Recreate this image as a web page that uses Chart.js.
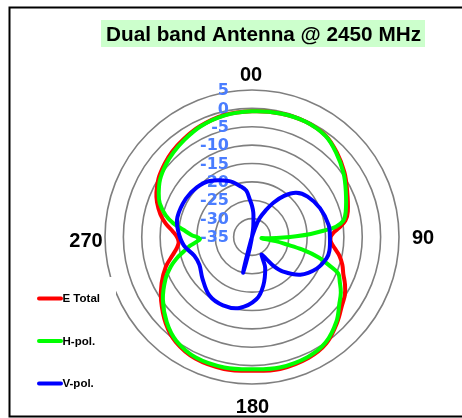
<!DOCTYPE html>
<html>
<head>
<meta charset="utf-8">
<script src="https://cdn.jsdelivr.net/npm/chart.js@4.4.1/dist/chart.umd.min.js"></script>
<style>
  html, body { margin: 0; padding: 0; background: #fff; }
</style>
</head>
<body>
<canvas id="chart" width="462" height="418"></canvas>
<script>
const title = 'Dual band Antenna @ 2450 MHz';
const seriesNames = ['E Total', 'H-pol.', 'V-pol.'];
const seriesColors = ['#ff0000', '#00ff00', '#0000ff'];
const directionLabels = ['00', '90', '180', '270'];
const tickValues = [5, 0, -5, -10, -15, -20, -25, -30, -35];

// angle (deg, clockwise from top) / level (dB) pairs
const eAngles = [0, 13, 25, 36, 45, 55, 64, 75, 80, 84, 87, 90, 94, 98, 102, 107, 112, 117, 122, 127, 135, 145, 155, 168, 180, 192, 205, 216, 225, 235, 243, 251, 257, 262, 266, 270, 274, 279, 284, 290, 295, 302, 310, 317, 325, 335, 347];
const eValues = [-0.8, -0.5, -0.4, -0.9, -2.4, -4.3, -6.2, -8.0, -9.2, -11.2, -12.8, -13.6, -13.4, -12.2, -10.7, -9.3, -8.2, -6.6, -5.2, -4.3, -2.2, 0.3, 1.3, 1.7, 1.4, 1.7, 1.5, 0.3, -1.8, -4.8, -7.4, -10.2, -12.8, -14.4, -15.0, -14.6, -13.4, -11.2, -9.3, -7.5, -6.3, -5.0, -4.0, -3.2, -2.5, -1.7, -1.0];

const hAngles = [0, 13, 25, 36, 45, 55, 64, 75, 80, 83, 85, 87, 89, 91, 94, 97, 100, 102, 104, 107, 110, 113, 117, 122, 127, 135, 145, 155, 168, 180, 192, 205, 216, 225, 235, 244, 250, 254, 258, 262, 265, 268, 272, 276, 280, 284, 290, 295, 302, 310, 317, 325, 335, 347];
const hValues = [-0.8, -0.5, -0.4, -1.0, -2.6, -4.6, -6.6, -8.6, -9.8, -12, -15.5, -19, -23, -26.5, -30, -32.4, -28.5, -25.5, -21, -16, -12.8, -9.5, -8.2, -6.5, -5.2, -2.5, 0, 1.0, 1.3, 1.0, 1.3, 1.2, 0, -2.2, -5.4, -8.8, -11.5, -13.6, -16, -18, -19.8, -20.8, -18.5, -16.2, -13.2, -10.8, -8.3, -7, -5.5, -4.4, -3.6, -2.8, -1.8, -1.1];

const vAngles = [0, 3, 5, 8, 11, 14, 17, 19, 22, 27, 32, 38, 45, 54, 67, 81, 90, 100, 106, 116, 128, 138, 143, 147, 151, 154, 157, 167, 176, 190, 203, 216, 230, 242, 252, 263, 275, 285, 300, 312, 323, 338, 347, 353, 357];
const vValues = [-26.5, -28.3, -30.5, -33, -38, -45, -36, -32.5, -29.5, -27, -24, -20.8, -18, -16.3, -14.9, -13.9, -13.8, -13.6, -13.9, -15.4, -18.3, -22.3, -25, -28, -29.6, -28.2, -25.8, -21.4, -18, -15.4, -14.8, -15.3, -17.4, -18.8, -18.5, -16.3, -14.8, -14.0, -14.2, -14.8, -15.9, -18.6, -20.8, -22.3, -25.0];

const degrees = Array.from({ length: 360 }, (_, i) => String(i));

function ring(angles, values) {
  const arr = new Array(360).fill(null);
  angles.forEach((a, i) => { arr[a] = values[i]; });
  return arr;
}

const series = [ring(eAngles, eValues), ring(hAngles, hValues), ring(vAngles, vValues)];

const decor = {
  id: 'decor',
  beforeDatasetsDraw(chart) {
    const ctx = chart.ctx;
    const r = chart.scales.r;
    ctx.save();
    // legend box hides part of the outer ring
    ctx.fillStyle = '#fff';
    ctx.fillRect(12, 277, 104, 125);
    ctx.font = 'bold 16px "DejaVu Sans"';
    ctx.fillStyle = '#4a7dff';
    ctx.textAlign = 'right';
    ctx.textBaseline = 'middle';
    tickValues.forEach(v => {
      const d = r.getDistanceFromCenterForValue(v);
      ctx.fillText(String(v), r.xCenter - 23, r.yCenter - d + 1);
    });
    ctx.restore();
  },
  afterDraw(chart) {
    const ctx = chart.ctx;
    const r = chart.scales.r;
    ctx.save();

    ctx.strokeStyle = '#000';
    ctx.lineWidth = 2;
    ctx.strokeRect(9.5, 7.5, 470, 409);

    ctx.fillStyle = '#ccffcc';
    ctx.fillRect(101, 20, 324, 27);
    ctx.fillStyle = '#000';
    ctx.font = 'bold 20px "Liberation Sans", Arial, sans-serif';
    ctx.textAlign = 'center';
    ctx.textBaseline = 'alphabetic';
    const tw = ctx.measureText(title).width;
    ctx.save();
    ctx.translate(263.5, 40.5);
    ctx.scale(315 / tw, 1);
    ctx.fillText(title, 0, 0);
    ctx.restore();

    const offs = [[-1, -156], [171, 7], [0.5, 176], [-166, 10]];
    directionLabels.forEach((t, i) => {
      ctx.fillText(t, r.xCenter + offs[i][0], r.yCenter + offs[i][1]);
    });

    ctx.font = 'bold 11.5px "Liberation Sans", Arial, sans-serif';
    ctx.textAlign = 'left';
    ctx.textBaseline = 'middle';
    ctx.lineCap = 'round';
    ctx.lineWidth = 4;
    const ys = [298.5, 341, 383.5];
    seriesNames.forEach((name, i) => {
      ctx.strokeStyle = seriesColors[i];
      ctx.beginPath();
      ctx.moveTo(39, ys[i]);
      ctx.lineTo(61, ys[i]);
      ctx.stroke();
      ctx.fillStyle = '#000';
      ctx.fillText(name, 62.5, ys[i] + 0.5);
    });
    ctx.restore();
  }
};

new Chart(document.getElementById('chart'), {
  type: 'radar',
  data: {
    labels: degrees,
    datasets: seriesNames.map((name, i) => ({
      label: name,
      data: series[i],
      borderColor: seriesColors[i],
      borderWidth: 4,
      pointRadius: 0,
      fill: false,
      spanGaps: true,
      tension: 0.35,
      borderJoinStyle: 'round',
      order: 2 - i
    }))
  },
  options: {
    responsive: false,
    devicePixelRatio: 1,
    animation: false,
    layout: { padding: { left: 105, right: 63, top: 90, bottom: 34 } },
    scales: {
      r: {
        min: -35,
        max: 5,
        ticks: { stepSize: 5, display: false },
        pointLabels: { display: false },
        angleLines: { display: false },
        grid: { circular: true, color: '#7f7f7f', lineWidth: 1.6 }
      }
    },
    plugins: { legend: { display: false }, tooltip: { enabled: false } }
  },
  plugins: [decor]
});
</script>
</body>
</html>
